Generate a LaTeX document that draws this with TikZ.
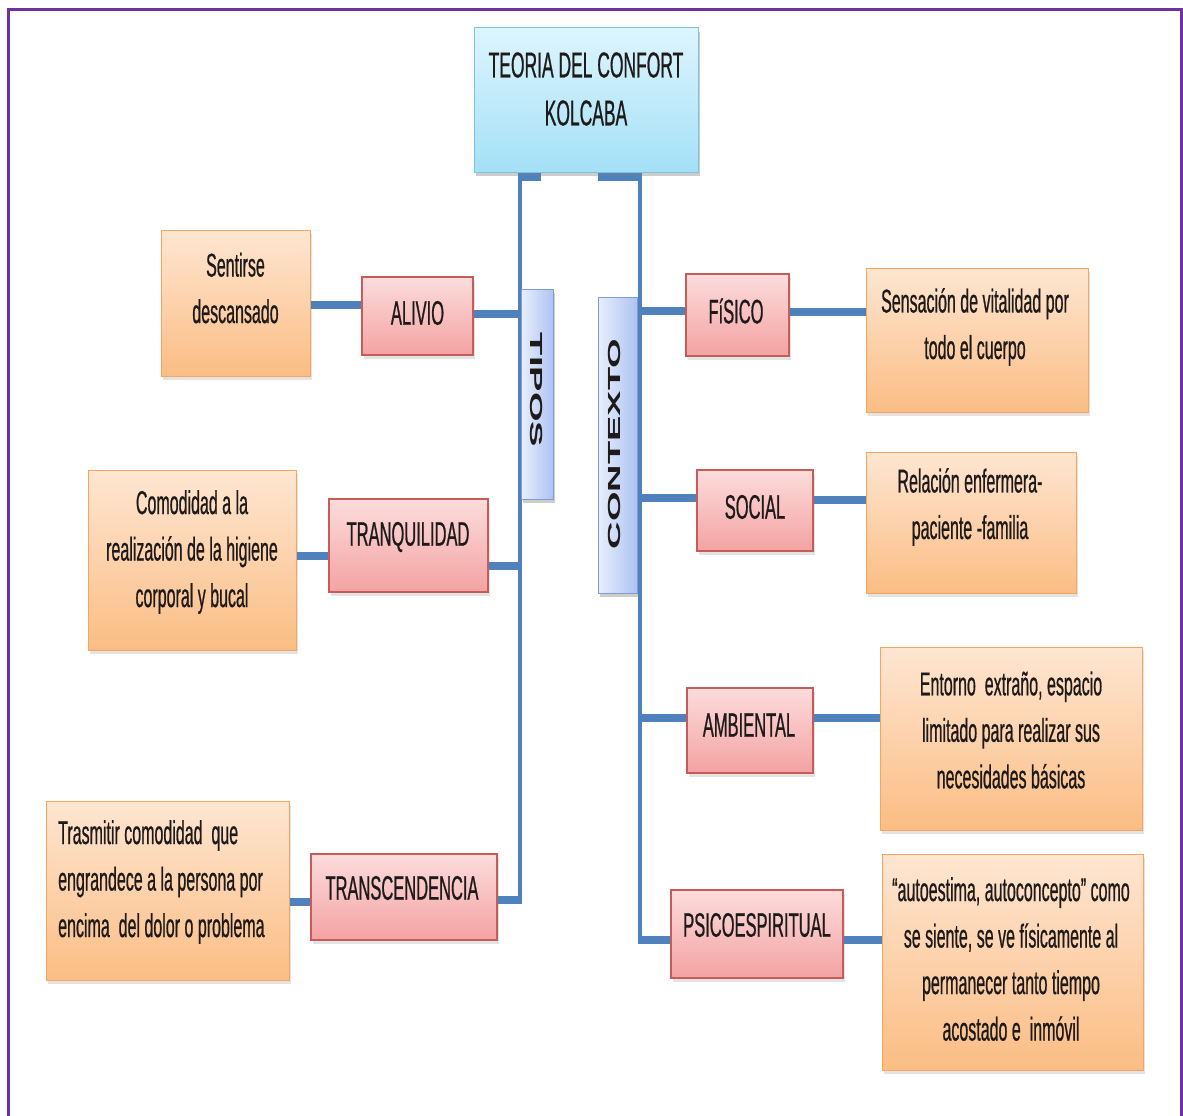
\documentclass[tikz,border=0pt]{standalone}
\usepackage{fontspec}
\usepackage{graphicx}
\setmainfont{Liberation Sans}
\newfontfamily\nar[FakeStretch=0.485,FakeBold=0.6]{Liberation Sans}
\usetikzlibrary{shadows}

\definecolor{connblue}{HTML}{4F81BD}
\definecolor{framepurple}{HTML}{7030A0}
\definecolor{ink}{HTML}{1E1A1A}
\definecolor{desctop}{HTML}{FEE6D2}
\definecolor{descbot}{HTML}{FBBD84}
\definecolor{descline}{HTML}{F5A55E}
\definecolor{tagtop}{HTML}{FCDCDC}
\definecolor{tagbot}{HTML}{F4A2A2}
\definecolor{tagline}{HTML}{C65C5A}
\definecolor{titletop}{HTML}{DDF5FD}
\definecolor{titlebot}{HTML}{A4E0F7}
\definecolor{titleline}{HTML}{7CC3DE}
\definecolor{sidel}{HTML}{E8EEFC}
\definecolor{sider}{HTML}{AEC3F2}
\definecolor{sideline}{HTML}{7F9DD3}

\tikzset{
  box/.style={draw, line width=1pt, inner sep=0pt,
    drop shadow={shadow xshift=1.5pt, shadow yshift=-4pt, opacity=0.22}},
  descbox/.style={box, draw=descline, top color=desctop, bottom color=descbot},
  tagbox/.style={box, draw=tagline, line width=1.2pt, top color=tagtop, bottom color=tagbot},
  titlebox/.style={box, draw=titleline, top color=titletop, bottom color=titlebot},
  sidebox/.style={box, draw=sideline, left color=sidel, right color=sider},
  bodytext/.style={align=center, inner sep=0pt, text=ink,
    font=\nar\fontsize{33}{46.5}\selectfont},
  tagtext/.style={inner sep=0pt, text=ink, font=\nar\fontsize{34}{40}\selectfont},
  titletext/.style={align=center, inner sep=0pt, text=ink,
    font=\nar\fontsize{36}{48}\selectfont},
  hline/.style={draw=connblue, line width=8.5pt},
  vline/.style={draw=connblue, line width=4pt},
  frameline/.style={draw=framepurple, line width=3pt},
}

\begin{document}
\begin{tikzpicture}[x=1pt, y=-1pt]
\useasboundingbox[fill=white] (0,0) rectangle (1183,1116);

% outer frame (open at the bottom)
\draw[frameline] (8,1116) -- (8,9.5) -- (1181.5,9.5) -- (1181.5,1116);

% ---------- boxes ----------
\node[titlebox, minimum width=224, minimum height=144] (title) at (586,100) {};

\node[sidebox, minimum width=32, minimum height=210] (tipos) at (537,394) {};
\node[sidebox, minimum width=39, minimum height=296] (contexto) at (617.5,445) {};

\node[descbox, minimum width=149, minimum height=146] (d1) at (235.5,303) {};
\node[tagbox,  minimum width=111, minimum height=78]  (l1) at (417.5,316) {};
\node[descbox, minimum width=208, minimum height=180] (d2) at (192,560) {};
\node[tagbox,  minimum width=159, minimum height=93]  (l2) at (408.5,545.5) {};
\node[descbox, minimum width=243, minimum height=179] (d3) at (167.5,890.5) {};
\node[tagbox,  minimum width=186, minimum height=86]  (l3) at (404,897) {};

\node[tagbox,  minimum width=103, minimum height=82]  (l4) at (737.5,315) {};
\node[descbox, minimum width=222, minimum height=144] (d4) at (977,340) {};
\node[tagbox,  minimum width=116, minimum height=81]  (l5) at (755,510.5) {};
\node[descbox, minimum width=210, minimum height=141] (d5) at (971,522.5) {};
\node[tagbox,  minimum width=126, minimum height=85]  (l6) at (750,730.5) {};
\node[descbox, minimum width=262, minimum height=183] (d6) at (1011,738.5) {};
\node[tagbox,  minimum width=172, minimum height=88]  (l7) at (757,934) {};
\node[descbox, minimum width=261, minimum height=216] (d7) at (1012.5,962) {};

% ---------- connectors ----------
\coordinate (tL) at (541,177);
\coordinate (sL) at (520,177);
\coordinate (tR) at (598,177);
\coordinate (sR) at (640,177);

\coordinate (j1) at (520,314);
\coordinate (j2) at (520,566);
\coordinate (j3) at (520,900);
\coordinate (k1) at (640,311);
\coordinate (k2) at (640,498);
\coordinate (k3) at (640,718);
\coordinate (k4) at (640,940);

\coordinate (c1) at (0,305);
\coordinate (c2) at (0,556);
\coordinate (c3) at (0,902);
\coordinate (c4) at (0,312);
\coordinate (c5) at (0,500);
\coordinate (c6) at (0,718);
\coordinate (c7) at (0,940);

% left spine: title -> TIPOS branch
\draw[hline] (tL) -- ([xshift=-2pt]sL);
\draw[vline] (sL) -- ([yshift=-4.25pt]j3);
\draw[hline] (l1.east |- j1) -- ([xshift=2pt]j1);
\draw[hline] (l2.east |- j2) -- ([xshift=2pt]j2);
\draw[hline] (l3.east |- j3) -- ([xshift=2pt]j3);

% right spine: title -> CONTEXTO branch
\draw[hline] (tR) -- ([xshift=2pt]sR);
\draw[vline] (sR) -- ([yshift=-4.25pt]k4);
\draw[hline] ([xshift=-2pt]k1) -- (l4.west |- k1);
\draw[hline] ([xshift=-2pt]k2) -- (l5.west |- k2);
\draw[hline] ([xshift=-2pt]k3) -- (l6.west |- k3);
\draw[hline] ([xshift=-2pt]k4) -- (l7.west |- k4);

% labels to their descriptions
\draw[hline] (d1.east |- c1) -- (l1.west |- c1);
\draw[hline] (d2.east |- c2) -- (l2.west |- c2);
\draw[hline] (d3.east |- c3) -- (l3.west |- c3);
\draw[hline] (l4.east |- c4) -- (d4.west |- c4);
\draw[hline] (l5.east |- c5) -- (d5.west |- c5);
\draw[hline] (l6.east |- c6) -- (d6.west |- c6);
\draw[hline] (l7.east |- c7) -- (d7.west |- c7);

% redraw the central boxes over the connector ends
\node[titlebox, minimum width=224, minimum height=144] (titletop) at (title) {};
\node[sidebox, minimum width=32, minimum height=210] (tipostop) at (tipos) {};
\node[sidebox, minimum width=39, minimum height=296] (contextotop) at (contexto) {};

% ---------- texts ----------
\node[titletext] (titletxt) at (586,89) {TEORIA DEL CONFORT\\KOLCABA};

\node[inner sep=0pt, text=ink] (tipostxt) at (537,390)
  {\scalebox{0.46}[1]{\rotatebox{-90}{\fontsize{38}{38}\selectfont\bfseries TIPOS}}};
\node[inner sep=0pt, text=ink] (contextotxt) at (614,444)
  {\scalebox{0.46}[1]{\rotatebox{90}{\fontsize{38}{38}\selectfont\bfseries CONTEXTO}}};

\node[tagtext] (l1t) at (417.5,313) {ALIVIO};
\node[tagtext] (l2t) at (408,537) {TRANQUILIDAD};
\node[tagtext] (l3t) at (402,888) {TRANSCENDENCIA};
\node[tagtext] (l4t) at (736,311) {FíSICO};
\node[tagtext] (l5t) at (755,507) {SOCIAL};
\node[tagtext] (l6t) at (749,725) {AMBIENTAL};
\node[tagtext] (l7t) at (757,925) {PSICOESPIRITUAL};

\node[bodytext] (d1t) at (235.5,288) {Sentirse\\descansado};
\node[bodytext] (d2t) at (192,552) {Comodidad a la\\realización de la higiene\\corporal y bucal};
\node[bodytext, align=left, anchor=west] (d3t) at (58,882)
  {Trasmitir comodidad\ \ que\\engrandece a la persona por\\encima\ \ del dolor o problema};
\node[bodytext] (d4t) at (975,327) {Sensación de vitalidad por\\todo el cuerpo};
\node[bodytext] (d5t) at (970,507) {Relación enfermera-\\paciente -familia};
\node[bodytext] (d6t) at (1011,730) {Entorno\ \ extraño, espacio\\limitado para realizar sus\\necesidades básicas};
\node[bodytext] (d7t) at (1011,959) {“autoestima, autoconcepto” como\\se siente, se ve físicamente al\\permanecer tanto tiempo\\acostado e\ \ inmóvil};
\end{tikzpicture}
\end{document}
